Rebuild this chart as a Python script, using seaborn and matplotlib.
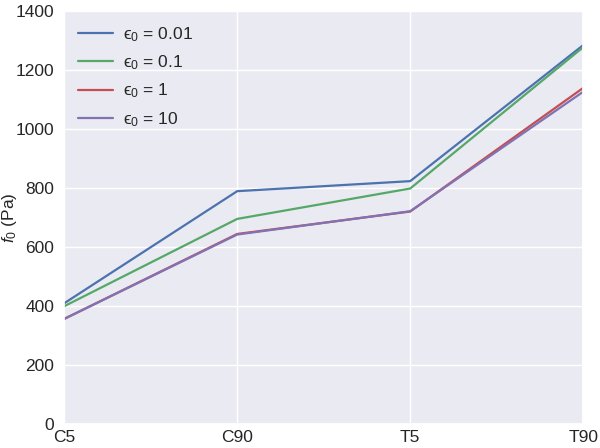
import matplotlib
matplotlib.use("Agg")
import matplotlib.pyplot as plt
import seaborn as sns
import pandas as pd

# Values
samples = ["C5", "C90", "T5", "T90"]
eps_labels = ["$\\mathrm{\u03f5}_0$ = 0.01", "$\\mathrm{\u03f5}_0$ = 0.1",
              "$\\mathrm{\u03f5}_0$ = 1", "$\\mathrm{\u03f5}_0$ = 10"]
f0_eps001 = [410, 790, 824, 1285]
f0_eps01 = [400, 696, 799, 1278]
f0_eps1 = [357, 645, 721, 1140]
f0_eps10 = [357, 643, 722, 1127]


def build_frame():
    rows = []
    for label, vals in zip(eps_labels, [f0_eps001, f0_eps01, f0_eps1, f0_eps10]):
        for i, v in enumerate(vals):
            rows.append({"pos": i, "sample": samples[i], "f0": v, "eps": label})
    return pd.DataFrame(rows)


sns.set_theme(style="darkgrid", font_scale=1.0)
plt.rcParams["font.family"] = ["Liberation Sans", "DejaVu Sans"]
plt.rcParams["mathtext.fontset"] = "custom"
plt.rcParams["mathtext.rm"] = "Liberation Sans"
plt.rcParams["mathtext.it"] = "Liberation Sans:italic"

df = build_frame()
palette = sns.color_palette("deep6")[:4]

fig, ax = plt.subplots(figsize=(6.0, 4.48), dpi=100)
sns.lineplot(data=df, x="pos", y="f0", hue="eps", palette=palette,
             linewidth=1.6, ax=ax)

ax.set_xticks(range(len(samples)))
ax.set_xticklabels(samples)
ax.set_xlim(0, len(samples) - 1)
ax.set_ylim(0, 1400)
ax.set_xlabel("")
ax.set_ylabel(r"$f_0$ (Pa)", fontsize=12.5)
ax.yaxis.set_label_coords(-0.087, 0.5)
ax.tick_params(axis="y", labelsize=12.5, length=0, pad=7)
ax.tick_params(axis="x", labelsize=12.5, length=0, pad=4)

leg = ax.legend(loc="upper left", frameon=False, fontsize=12.5,
                handlelength=2.0, handletextpad=0.6,
                borderaxespad=0.4, labelspacing=0.55)

fig.subplots_adjust(left=0.107, right=0.972, top=0.975, bottom=0.053)
fig.savefig("out.png", dpi=100)
plt.close(fig)
